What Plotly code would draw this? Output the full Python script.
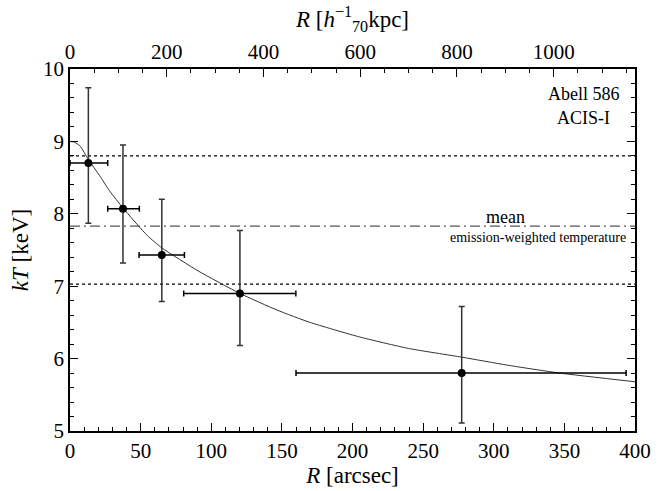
import plotly.graph_objects as go

# Projected temperature profile of Abell 586 (Chandra ACIS-I)
r_arcsec = [13.0, 37.5, 65.0, 120.3, 277.3]
r_lo = [0.0, 26.7, 48.9, 80.5, 160.0]
r_hi = [26.7, 49.1, 81.0, 159.9, 393.7]
kt = [8.70, 8.07, 7.43, 6.90, 5.80]
kt_lo = [7.87, 7.32, 6.79, 6.18, 5.11]
kt_hi = [9.74, 8.95, 8.20, 7.77, 6.72]

# Best-fit model profile, sampled along the curve
model_r = [0.0, 3.0, 7.0, 13.0, 20.9, 27.9, 37.5, 54.7, 65.0, 90.8, 120.3, 146.6,
           169.9, 204.8, 239.7, 277.3, 309.5, 346.7, 400.0]
model_kt = [9.00, 8.99, 8.94, 8.75, 8.53, 8.32, 8.08, 7.70, 7.53, 7.21, 6.90, 6.67,
            6.50, 6.30, 6.14, 6.02, 5.91, 5.80, 5.68]

# Mean emission-weighted temperature and its range
t_mean = 7.83
t_low = 7.03
t_high = 8.80

# Angular to physical scale at the cluster redshift
kpc_per_arcsec = 2.92
x_max = 400.0

serif = "'Liberation Serif', 'Times New Roman', Times, serif"
fig = go.Figure()

for y, dash, col in [(t_high, "dot", "black"), (t_low, "dot", "black"),
                     (t_mean, "10px,4px,2px,4px", "#555555")]:
    fig.add_trace(go.Scatter(x=[0, x_max], y=[y, y], mode="lines",
                             line=dict(color=col, width=1.2, dash=dash),
                             hoverinfo="skip", showlegend=False))

fig.add_trace(go.Scatter(x=model_r, y=model_kt, mode="lines",
                         line=dict(color="#333333", width=1, shape="spline", smoothing=0.5),
                         showlegend=False))

fig.add_trace(go.Scatter(
    x=r_arcsec, y=kt, mode="markers",
    marker=dict(color="black", size=8),
    error_x=dict(type="data", symmetric=False,
                 array=[h - c for h, c in zip(r_hi, r_arcsec)],
                 arrayminus=[c - l for c, l in zip(r_arcsec, r_lo)],
                 color="black", thickness=1.5, width=3),
    error_y=dict(type="data", symmetric=False,
                 array=[h - c for h, c in zip(kt_hi, kt)],
                 arrayminus=[c - l for c, l in zip(kt, kt_lo)],
                 color="#333333", thickness=1.5, width=3),
    showlegend=False))

# Companion trace that carries the physical-radius axis
fig.add_trace(go.Scatter(x=[0, x_max * kpc_per_arcsec], y=[5, 5], xaxis="x2",
                         mode="markers", marker=dict(opacity=0), hoverinfo="skip",
                         showlegend=False))

tickfont = dict(family=serif, size=21, color="black")
titlefont = dict(family=serif, size=23, color="black")
axis_common = dict(showgrid=False, zeroline=False, showline=True, linecolor="black",
                   linewidth=1.5, ticks="inside", ticklen=8, tickwidth=1.2,
                   tickcolor="black", tickfont=tickfont)
minor_common = dict(ticks="inside", ticklen=4, tickcolor="black", tickwidth=1)

fig.update_layout(
    width=663, height=491,
    margin=dict(l=70, r=20, t=69, b=56),
    paper_bgcolor="white", plot_bgcolor="white",
    font=dict(family=serif, color="black"),
    xaxis=dict(range=[0, x_max], dtick=50, tick0=0,
               minor=dict(dtick=10, **minor_common),
               title=dict(text="<i>R</i> [arcsec]", font=titlefont, standoff=0),
               **axis_common),
    xaxis2=dict(range=[0, x_max * kpc_per_arcsec], overlaying="x", side="top",
                dtick=200, tick0=0,
                minor=dict(dtick=50, **minor_common),
                title=dict(text="<i>R</i> [<i>h</i><sup>−1</sup><sub>70</sub>kpc]",
                           font=titlefont, standoff=6),
                **axis_common),
    yaxis=dict(range=[5, 10], dtick=1, tick0=5, mirror="ticks",
               minor=dict(dtick=0.2, **minor_common),
               title=dict(text="<i>kT</i> [keV]", font=titlefont, standoff=8),
               **axis_common),
)

# Text labels placed by pixel column across the plotting area (70 px .. 643 px)
def px_to_paper(px):
    return (px - 70.0) / 573.0

labels = [
    dict(px=591, y=9.49, text="Abell 586", size=18, xanchor="center", yanchor="bottom"),
    dict(px=591, y=9.49, text="ACIS-I", size=18, xanchor="center", yanchor="top"),
    dict(px=512, y=t_mean - 0.04, text="mean", size=18, xanchor="center", yanchor="bottom"),
    dict(px=636, y=t_mean - 0.03, text="emission-weighted temperature", size=14,
         xanchor="right", yanchor="top"),
]
for lab in labels:
    fig.add_annotation(x=px_to_paper(lab["px"]), y=lab["y"], xref="paper", yref="y",
                       text=lab["text"], showarrow=False,
                       xanchor=lab["xanchor"], yanchor=lab["yanchor"],
                       font=dict(family=serif, size=lab["size"], color="black"))

fig.write_html("out.html")
